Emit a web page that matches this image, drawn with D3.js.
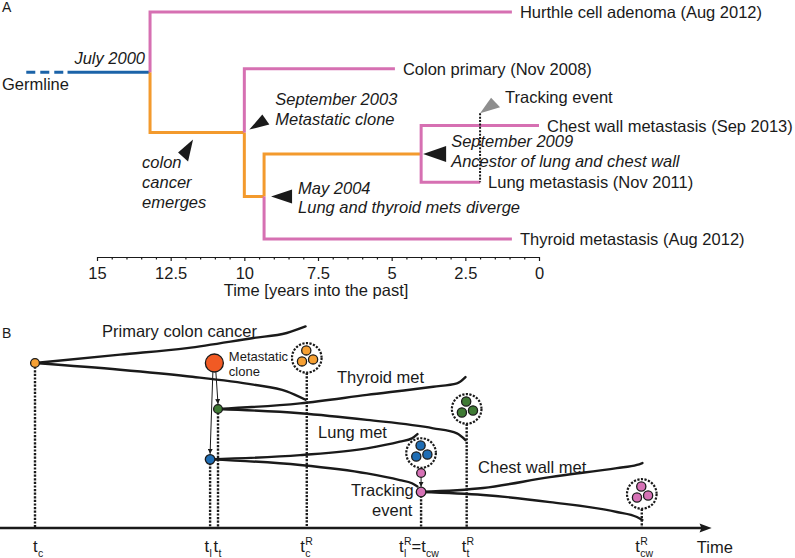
<!DOCTYPE html>
<html><head><meta charset="utf-8">
<script src="https://cdn.jsdelivr.net/npm/d3@7"></script>
<style>
body{margin:0;background:#fff;}
svg{display:block;font-family:"Liberation Sans",Arial,Helvetica,sans-serif;}
</style></head><body>
<svg id="chart" width="795" height="558"></svg>
<script>
// ================= Panel A data =================
const leafLabels = ["Hurthle cell adenoma (Aug 2012)", "Colon primary (Nov 2008)", "Chest wall metastasis (Sep 2013)", "Lung metastasis (Nov 2011)", "Thyroid metastasis (Aug 2012)"];
const leafYears = [0.92, 4.89, 0, 2.0, 0.92];          // years into the past
const splitLabels = ["July 2000", "September 2003", "May 2004", "September 2009"];
const splitNotes = ["", "Metastatic clone", "Lung and thyroid mets diverge", "Ancestor of lung and chest wall"];
const splitYears = [13.2, 10.0, 9.33, 4.0];
const treeChildren = {S0: ["L0", "S1"], S1: ["L1", "S2"], S2: ["S3", "L4"], S3: ["L2", "L3"]};
const germlineYears = [17.4, 16.0];                    // dashed start, solid start
const colonEmergesYear = 11.74;
const trackingYear = 2.0;
const axisTicks = [15, 12.5, 10, 7.5, 5, 2.5, 0];
const axisTitle = "Time [years into the past]";

// ================= Panel B data =================
const cloneNames = ["Primary colon cancer", "Thyroid met", "Lung met", "Chest wall met"];
const cloneLane = [7.857, 5.667, 3.27, 1.714];
const primaryTimes = [0, 1.40, 2.50, 3.59, 4.14, 4.45];
const primaryUpper = [0, 0.40, 0.71, 1.19, 1.43, 1.74];
const primaryLower = [0, 0.32, 0.63, 1.03, 1.35, 1.75];
const thyroidTimes = [3.01, 4.36, 5.46, 6.55, 6.94, 7.08];
const thyroidUpper = [0, 0.27, 0.67, 1.06, 1.22, 1.52];
const thyroidLower = [0, 0.20, 0.52, 0.92, 1.16, 1.48];
const lungTimes = [2.88, 4.36, 5.46, 6.00, 6.20, 6.29];
const lungUpper = [0, 0.20, 0.52, 0.84, 1.00, 1.20];
const lungLower = [0, 0.27, 0.67, 0.99, 1.14, 1.29];
const chestTimes = [6.35, 7.37, 8.47, 9.57, 9.90, 9.99];
const chestUpper = [0, 0.19, 0.71, 1.14, 1.29, 1.38];
const chestLower = [0, 0.14, 0.48, 0.95, 1.19, 1.33];
const cloneColors = ["#f6a033", "#3f7a34", "#1f6db4", "#d672b6"];
const clusterTimes = [4.47, 7.10, 6.35, 9.98];
const clusterLevels = [8.10, 5.67, 3.57, 1.62];
const metCloneTime = 2.95;
const trackingLevels = [2.62, 1.714];                  // small pink dot, tracking dot
// event times on the time axis
const eventTimes = [0, 2.88, 3.01, 4.47, 6.35, 7.10, 9.98];
const timeLabel = "Time";

// ================= drawing =================
const svg = d3.select("#chart");
const FS = 16.5;
const INK = "#1a1a1a";
const PINK = "#d670b2", ORANGE = "#f39a2d", BLUE = "#1b63a8";

// ---------- Panel A ----------
const xA = d3.scaleLinear().domain([15, 0]).range([97, 539]);
const yA = d3.scaleLinear().domain([0, 4]).range([12, 239]);
const isLeaf = id => id[0] === "L";
const idx = id => +id.slice(1);
const nodeYear = id => isLeaf(id) ? leafYears[idx(id)] : splitYears[idx(id)];
function nodeY(id) { return isLeaf(id) ? yA(idx(id)) : d3.mean(treeChildren[id], nodeY); }

svg.append("text").attr("x", 2).attr("y", 12).attr("font-size", 14).attr("fill", INK).text("A");

const gA = svg.append("g");
// germline
const rootY = nodeY("S0");
gA.append("line").attr("x1", xA(germlineYears[0])).attr("x2", xA(germlineYears[1]))
  .attr("y1", rootY).attr("y2", rootY).attr("stroke", BLUE).attr("stroke-width", 3)
  .attr("stroke-dasharray", "9,5");
gA.append("line").attr("x1", xA(germlineYears[1])).attr("x2", xA(splitYears[0]))
  .attr("y1", rootY).attr("y2", rootY).attr("stroke", BLUE).attr("stroke-width", 3);

// branches
const segs = [];
Object.keys(treeChildren).forEach(p => {
  treeChildren[p].forEach(c => segs.push({p, c}));
});
segs.sort((a, b) => (isLeaf(a.c) ? 1 : 0) - (isLeaf(b.c) ? 1 : 0));
gA.selectAll("path.branch").data(segs).join("path").attr("class", "branch")
  .attr("d", d => `M${xA(nodeYear(d.p))},${nodeY(d.p)}V${nodeY(d.c)}H${xA(nodeYear(d.c))}`)
  .attr("fill", "none").attr("stroke", d => isLeaf(d.c) ? PINK : ORANGE)
  .attr("stroke-width", 3).attr("stroke-linejoin", "miter");

// leaf labels
gA.selectAll("text.leaf").data(leafLabels).join("text").attr("class", "leaf")
  .attr("x", (d, i) => xA(leafYears[i]) + 8).attr("y", (d, i) => yA(i) + 6)
  .attr("font-size", FS).attr("fill", INK).text(d => d);

// tracking event dotted line
const lungY = nodeY("L3");
const trackTip = [xA(trackingYear), lungY - 69];
gA.append("line").attr("x1", trackTip[0]).attr("x2", trackTip[0])
  .attr("y1", trackTip[1]).attr("y2", lungY)
  .attr("stroke", INK).attr("stroke-width", 2).attr("stroke-dasharray", "2,1.4");

// triangles
function tri(g, tip, b1, b2, fill) {
  g.append("path").attr("d", `M${tip[0]},${tip[1]}L${tip[0] + b1[0]},${tip[1] + b1[1]}L${tip[0] + b2[0]},${tip[1] + b2[1]}Z`)
    .attr("fill", fill);
}
const s1 = [xA(splitYears[1]), nodeY("S1")];
const s2 = [xA(splitYears[2]), nodeY("S2")];
const s3 = [xA(splitYears[3]), nodeY("S3")];
const colonTip = [xA(colonEmergesYear), nodeY("S1") + 7];
tri(gA, colonTip, [-15, 13], [-5, 22], INK);
tri(gA, [s1[0] + 5, s1[1] - 3], [13, -15], [20, -5], INK);
tri(gA, [s2[0] + 7, s2[1]], [21, -7], [21, 7], INK);
tri(gA, [s3[0] + 2, s3[1]], [23, -8], [23, 8], INK);
tri(gA, trackTip, [11, -15.5], [20, -6], "#8e8e8e");

function itext(x, y, s, anchor) {
  gA.append("text").attr("x", x).attr("y", y).attr("font-size", FS).attr("font-style", "italic")
    .attr("fill", INK).attr("text-anchor", anchor || "start").text(s);
}
itext(xA(splitYears[0]) - 5, rootY - 8, splitLabels[0], "end");
gA.append("text").attr("x", 2).attr("y", rootY + 18).attr("font-size", FS).attr("fill", INK).text("Germline");
["colon", "cancer", "emerges"].forEach((s, i) => itext(colonTip[0] - 51, colonTip[1] + 28 + i * 20, s));
itext(s1[0] + 31, s1[1] - 28, splitLabels[1]); itext(s1[0] + 31, s1[1] - 8, splitNotes[1]);
itext(s2[0] + 34, s2[1] - 2, splitLabels[2]); itext(s2[0] + 34, s2[1] + 17, splitNotes[2]);
itext(s3[0] + 30, s3[1] - 7, splitLabels[3]); itext(s3[0] + 30, s3[1] + 13, splitNotes[3]);
gA.append("text").attr("x", trackTip[0] + 25).attr("y", trackTip[1] - 10).attr("font-size", FS)
  .attr("fill", INK).text("Tracking event");

// axis
const axG = svg.append("g").attr("transform", "translate(0,257)")
  .call(d3.axisBottom(xA).tickValues(axisTicks).tickSize(4).tickPadding(6).tickSizeOuter(0).tickFormat(d => d));
const minorVals = d3.range(0, 15.01, 0.5).filter(v => !axisTicks.includes(v));
const axM = svg.append("g").attr("transform", "translate(0,257)")
  .call(d3.axisBottom(xA).tickValues(minorVals).tickSize(2.5).tickFormat(""));
axM.select(".domain").remove();
[axG, axM].forEach(g => {
  g.attr("font-family", null).attr("font-size", null);
  g.selectAll("path,line").attr("stroke", INK).attr("stroke-width", 1.2);
  g.selectAll("text").attr("font-size", FS).attr("fill", INK);
});
svg.append("text").attr("x", xA(7.5) - 2).attr("y", 296).attr("text-anchor", "middle")
  .attr("font-size", FS).attr("fill", INK).text(axisTitle);

// ---------- Panel B ----------
svg.append("text").attr("x", 2).attr("y", 338).attr("font-size", 14).attr("fill", INK).text("B");
const xB = d3.scaleLinear().domain([0, 10]).range([35, 643]);
const yB = d3.scaleLinear().domain([0, 10]).range([528, 318]);
const gB = svg.append("g");

const clones = [
  {times: primaryTimes, up: primaryUpper, lo: primaryLower},
  {times: thyroidTimes, up: thyroidUpper, lo: thyroidLower},
  {times: lungTimes, up: lungUpper, lo: lungLower},
  {times: chestTimes, up: chestUpper, lo: chestLower}
];
const line = d3.line().curve(d3.curveMonotoneX);
clones.forEach((c, i) => {
  [c.up, c.lo].forEach((offs, k) => {
    const pts = c.times.map((t, j) => [xB(t), yB(cloneLane[i] + (k === 0 ? 1 : -1) * offs[j])]);
    gB.append("path").attr("d", line(pts)).attr("fill", "none").attr("stroke", INK)
      .attr("stroke-width", 2.4).attr("stroke-linecap", "round");
  });
});

// drop lines
const CR = 14.8;
const dropFrom = [
  yB(cloneLane[0]), yB(cloneLane[2]), yB(cloneLane[1]),
  yB(clusterLevels[0]) + CR, yB(trackingLevels[1]),
  yB(clusterLevels[1]) + CR, yB(clusterLevels[3]) + CR
];
gB.selectAll("line.drop").data(eventTimes).join("line").attr("class", "drop")
  .attr("x1", d => xB(d)).attr("x2", d => xB(d))
  .attr("y1", (d, i) => dropFrom[i]).attr("y2", yB(0))
  .attr("stroke", INK).attr("stroke-width", 2.4).attr("stroke-dasharray", "2.2,1.4");

// time axis with arrow
gB.append("line").attr("x1", xB(-0.58)).attr("x2", xB(11.0)).attr("y1", yB(0)).attr("y2", yB(0))
  .attr("stroke", INK).attr("stroke-width", 2.5);
gB.append("path").attr("d", `M${xB(11.13)},${yB(0)}L${xB(10.93)},${yB(0) - 4.5}L${xB(10.96)},${yB(0)}L${xB(10.93)},${yB(0) + 4.5}Z`)
  .attr("fill", INK);

// arrows from metastatic clone
const defs = svg.append("defs");
defs.append("marker").attr("id", "ah").attr("viewBox", "0 0 8 8").attr("refX", 8).attr("refY", 4)
  .attr("markerWidth", 5).attr("markerHeight", 5).attr("orient", "auto")
  .append("path").attr("d", "M0,0L8,4L0,8Z").attr("fill", INK);
const mc = [xB(metCloneTime), yB(cloneLane[0])];
const MR = 9;
const arrowTo = [[xB(thyroidTimes[0]), yB(cloneLane[1]) - 5], [xB(lungTimes[0]), yB(cloneLane[2]) - 5.5]];
arrowTo.forEach((p, i) => {
  gB.append("line").attr("x1", mc[0] + (i === 0 ? 1.5 : -1.5)).attr("y1", mc[1] + MR)
    .attr("x2", p[0]).attr("y2", p[1]).attr("stroke", INK).attr("stroke-width", 1)
    .attr("marker-end", "url(#ah)");
});
// tracking arrow
gB.append("line").attr("x1", xB(chestTimes[0])).attr("x2", xB(chestTimes[0]))
  .attr("y1", yB(trackingLevels[0]) + 4.5).attr("y2", yB(trackingLevels[1]) - 5.2)
  .attr("stroke", INK).attr("stroke-width", 1).attr("marker-end", "url(#ah)");

// clusters
const clusterOff = [[-0.5, -7.5], [-4.8, 3.5], [6.3, 1.5]];
clusterTimes.forEach((t, i) => {
  const cx = xB(t), cy = yB(clusterLevels[i]);
  gB.append("circle").attr("cx", cx).attr("cy", cy).attr("r", CR).attr("fill", "#fff")
    .attr("stroke", INK).attr("stroke-width", 2.2).attr("stroke-dasharray", "2.2,1.4");
  clusterOff.forEach(o => gB.append("circle").attr("cx", cx + o[0]).attr("cy", cy + o[1]).attr("r", 4.6)
    .attr("fill", cloneColors[i]).attr("stroke", INK).attr("stroke-width", 1.3));
});

// dots
const dots = [
  [xB(primaryTimes[0]), yB(cloneLane[0]), 4.4, cloneColors[0]],
  [xB(thyroidTimes[0]), yB(cloneLane[1]), 4.4, cloneColors[1]],
  [xB(lungTimes[0]), yB(cloneLane[2]), 4.8, cloneColors[2]],
  [xB(chestTimes[0]), yB(trackingLevels[0]), 4.4, cloneColors[3]],
  [xB(chestTimes[0]), yB(trackingLevels[1]), 4.8, cloneColors[3]],
  [mc[0], mc[1], MR, "#f15a24"]
];
dots.forEach(d => gB.append("circle").attr("cx", d[0]).attr("cy", d[1]).attr("r", d[2])
  .attr("fill", d[3]).attr("stroke", INK).attr("stroke-width", 1.3));

// clone labels
function btext(x, y, s, size) {
  gB.append("text").attr("x", x).attr("y", y).attr("font-size", size || FS).attr("fill", INK).text(s);
}
btext(xB(primaryTimes[0]) + 67, yB(cloneLane[0]) - 26, cloneNames[0]);
btext(xB(thyroidTimes[0]) + 119, yB(cloneLane[1]) - 26, cloneNames[1]);
btext(xB(lungTimes[0]) + 108, yB(cloneLane[2]) - 21, cloneNames[2]);
btext(xB(chestTimes[0]) + 57, yB(cloneLane[3]) - 19, cloneNames[3]);
btext(mc[0] + 14.5, mc[1] - 2, "Metastatic", 13);
btext(mc[0] + 14.5, mc[1] + 13, "clone", 13);
btext(xB(chestTimes[0]) - 70, yB(trackingLevels[1]) + 4, "Tracking");
btext(xB(chestTimes[0]) - 49, yB(trackingLevels[1]) + 24, "event");

// event labels (t with stacked sub/superscripts, one text element each)
const eventLabels = [
  [["t", "c", null]],
  [["t", "l", null]],
  [["t", "t", null]],
  [["t", "c", "R"]],
  [["t", "l", "R"], ["=t", "cw", null]],
  [["t", "t", "R"]],
  [["t", "cw", "R"]]
];
const labelDx = [-2, -5.5, -4.5, -6.5, -22, -5, -6.5];
const LB = 552;
const SUBFS = 10.5;
eventLabels.forEach((parts, i) => {
  let x = xB(eventTimes[i]) + labelDx[i];
  const txt = gB.append("text").attr("x", x).attr("y", LB).attr("font-size", FS).attr("fill", INK);
  parts.forEach(p => {
    const m = txt.append("tspan").attr("x", x).attr("y", LB).text(p[0]);
    x += m.node().getComputedTextLength() + 0.3;
    let w = 0;
    if (p[1]) {
      const s = txt.append("tspan").attr("x", x).attr("y", LB + 4.5).attr("font-size", SUBFS).text(p[1]);
      w = Math.max(w, s.node().getComputedTextLength());
    }
    if (p[2]) {
      const s = txt.append("tspan").attr("x", x).attr("y", LB - 7).attr("font-size", SUBFS).text(p[2]);
      w = Math.max(w, s.node().getComputedTextLength());
    }
    x += w;
  });
});
btext(xB(11.0) - 7, 553, timeLabel);
</script>
</body></html>
